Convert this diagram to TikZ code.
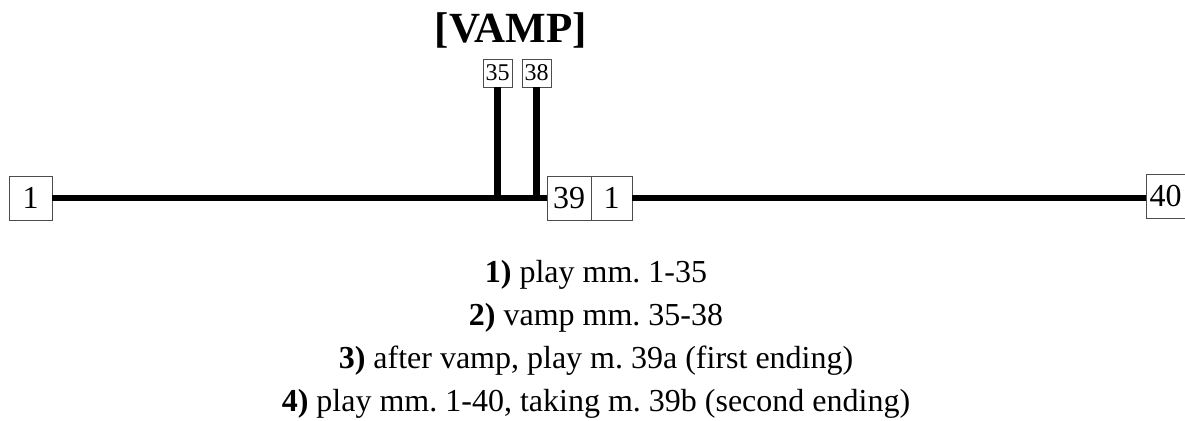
\documentclass[tikz,border=0pt]{standalone}
\usepackage{fontspec}
\setmainfont{Liberation Serif}
\begin{document}
\frenchspacing
\begin{tikzpicture}[x=1pt,y=-1pt,
  bar/.style={line width=6.5pt},
  mbox/.style={draw=black!70, line width=0.8pt, fill=white, inner sep=0pt, minimum height=44pt, font=\fontsize{32}{36}\selectfont},
  sbox/.style={draw=black!70, line width=0.8pt, fill=white, inner sep=0pt, minimum width=29pt, minimum height=28pt, font=\fontsize{24}{28}\selectfont},
  step text/.style={anchor=base, font=\fontsize{32}{38}\selectfont}]
\useasboundingbox (0,0) rectangle (1185,420);
\node[mbox, minimum width=43pt] (a1) at (30.5,198) {1};
\node[mbox, minimum width=44pt] (a39) at (569,198) {39};
\node[mbox, minimum width=41pt] (b1) at (611.5,198) {1};
\node[mbox, minimum width=39pt] (b40) at (1165.5,196) {40};
\node[sbox] (s35) at (497.5,73) {35};
\node[sbox] (s38) at (536.5,73) {38};
\node[anchor=base, font=\fontsize{43}{50}\bfseries\selectfont] (title) at (511,43) {[VAMP]};
\coordinate (j35) at (s35.south |- a39.west);
\coordinate (j38) at (s38.south |- a39.west);
\draw[bar] (a1.east) -- (a39.west);
\draw[bar] (b1.east) -- (b40.west |- b1.east);
\draw[bar] (s35.south) -- ([yshift=3pt]j35);
\draw[bar] (s38.south) -- ([yshift=3pt]j38);
\node[step text] (t1) at (596,282) {\textbf{1)} play mm. 1-35};
\node[step text] (t2) at (596,325) {\textbf{2)} vamp mm. 35-38};
\node[step text] (t3) at (596,368) {\textbf{3)} after vamp, play m. 39a (first ending)};
\node[step text] (t4) at (596,411) {\textbf{4)} play mm. 1-40, taking m. 39b (second ending)};
\end{tikzpicture}
\end{document}
